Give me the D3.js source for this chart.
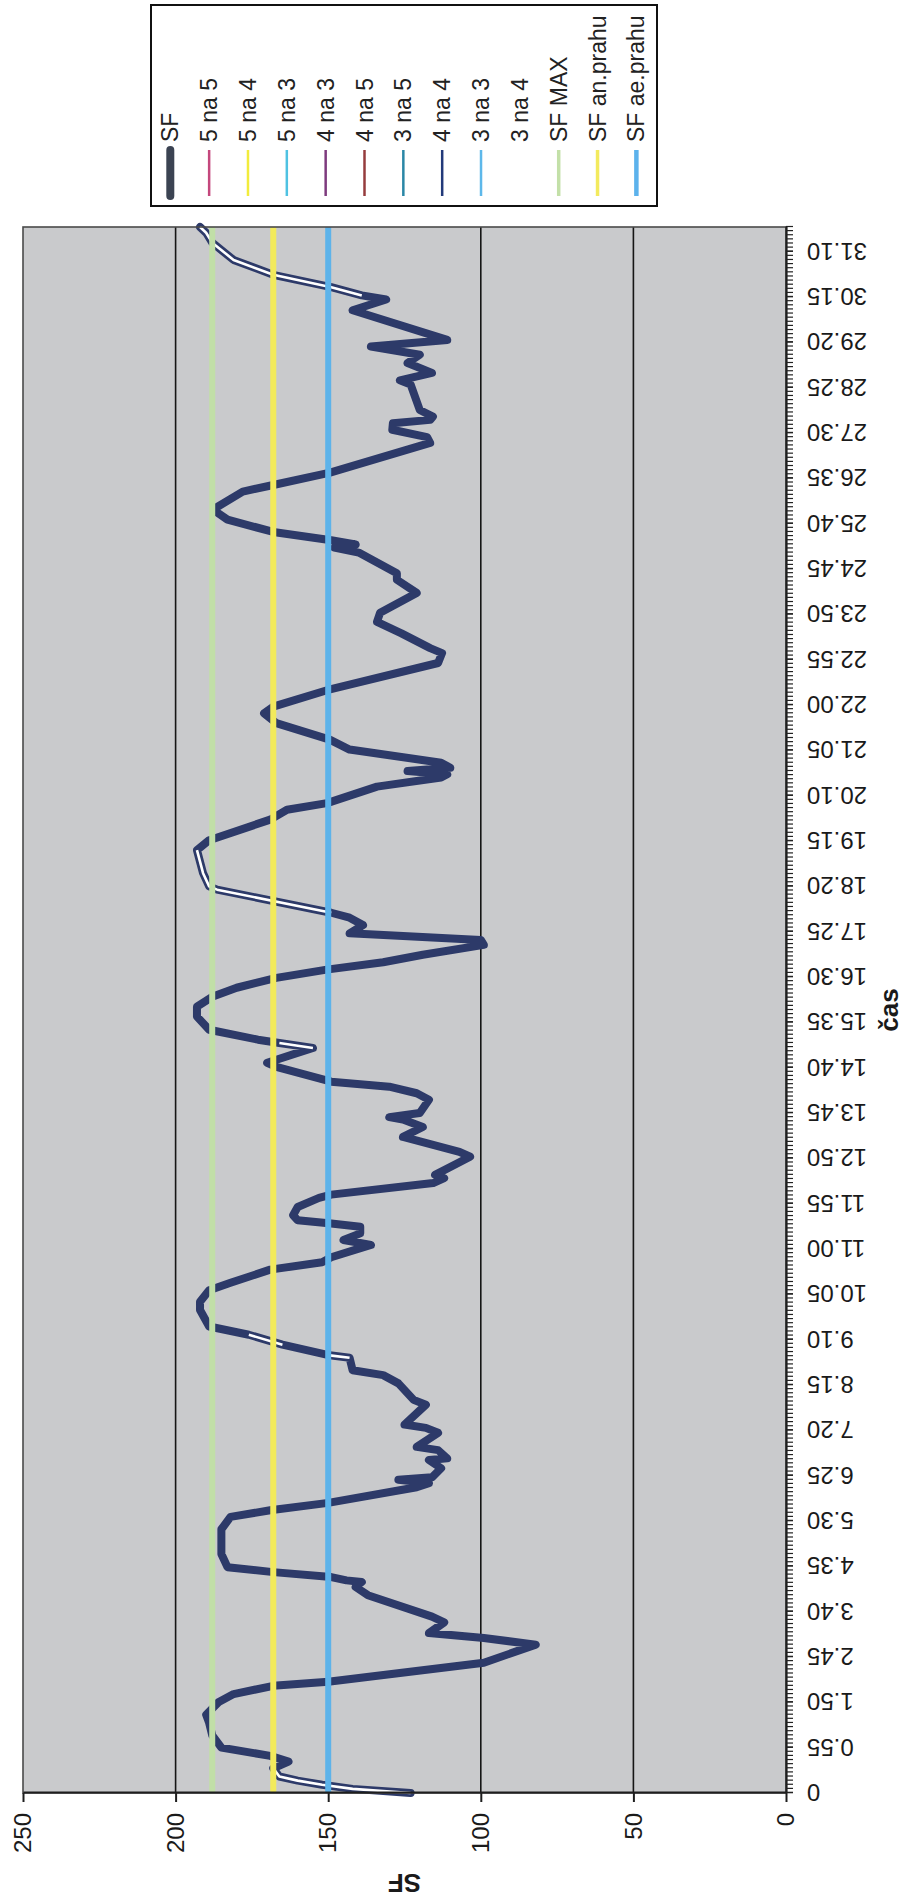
<!DOCTYPE html>
<html>
<head>
<meta charset="utf-8">
<script src="https://cdn.jsdelivr.net/npm/d3@7"></script>
<style>
  html, body { margin: 0; padding: 0; background: #ffffff; }
  svg { display: block; }
  text { font-family: "Liberation Sans", Arial, sans-serif; }
</style>
</head>
<body>
<svg id="graf" width="905" height="1903"></svg>
<script>
// Popisky časové osy (h.mm), jeden popisek na každých 11 intervalů po 5 minutách
const casLabels = ["0","0.55","1.50","2.45","3.40","4.35","5.30","6.25","7.20","8.15",
  "9.10","10.05","11.00","11.55","12.50","13.45","14.40","15.35","16.30","17.25",
  "18.20","19.15","20.10","21.05","22.00","22.55","23.50","24.45","25.40","26.35",
  "27.30","28.25","29.20","30.15","31.10"];

// Hodnoty osy SF
const sfTicks = [0, 50, 100, 150, 200, 250];

// Průběh SF: čas v minutách od začátku a hodnota SF
const sfCas = [0,5,10,15,20,30,38,45,55,70,85,95,110,120,130,135,158,180,188,194,
  207,214,240,250,256,258,262,268,274,290,320,335,343,352,371,376,380,383,394,404,
  406,416,420,437,443,447,471,477,497,507,513,528,531,544,556,566,586,596,610,619,
  635,644,650,665,671,679,687,691,695,701,711,722,726,740,746,750,772,778,796,808,
  817,820,825,841,849,857,863,881,886,904,910,914,926,942,954,966,977,989,999,1008,
  1017,1029,1035,1043,1053,1062,1068,1096,1100,1116,1144,1156,1181,1193,1201,1221,1232,1236,1240,1244,
  1250,1266,1278,1298,1310,1318,1338,1371,1383,1389,1407,1421,1432,1456,1472,1480,1505,1511,1515,1520,
  1530,1545,1554,1560,1579,1587,1602,1638,1645,1654,1662,1666,1670,1678,1709,1714,1723,1735,1745,1755,
  1763,1799,1812,1817,1827,1842,1860,1881,1893,1900];
const sfHodnota = [123,142,152,160,166,168,163,169,185,188,189,190,186,181,168,150,99,82,99,117,
  112,116,137,141,139,144,149,168,183,185,185,182,169,150,121,117,127,116,113,117,
  111,114,121,114,118,125,118,122,127,132,142,143,149.5,165,176,189,192,192,189,182,
  169,152,149,136,145,139.5,139.5,149,160,161.5,160,153,149,115.6,112,115,103.5,107,125.5,119,
  125.5,130,120,117,121,130,149,167,170,155,166,173,189,193,193,188,180,167,150.5,132,
  119,99,100,143,138.6,143,149,186.4,189,191,193,189,169,163.5,150.4,134,113,111,124,110,
  113,143,149.5,167,171,168,150.4,114,112.7,116.6,126,134,133,121,127.5,127.5,140,148,141,149,
  168,183,186.5,186.5,178,168,149.4,116.6,117.6,129,128.8,116.6,115.7,120,123,126.5,116,124,120,136,
  111,142,131,139,149,168,181,188,190,192];

// Úseky (minuty), kdy je aktivní řada "3 na 4"
const usek3na4 = [[0, 30], [528, 531], [544, 556], [904, 910], [1068, 1144], [1817, 1900]];

// Prahové řady
const prahNazvy = ["SF MAX", "SF an.prahu", "SF ae.prahu"];
const prahHodnoty = [188, 168, 150];

// Řady v legendě
const legendaNazvy = ["SF","5 na 5","5 na 4","5 na 3","4 na 3","4 na 5","3 na 5",
  "4 na 4","3 na 3","3 na 4","SF MAX","SF an.prahu","SF ae.prahu"];

// Vzhled řad
const styl = {
  "SF":          { barva: "#3b4352", sirka: 8 },
  "5 na 5":      { barva: "#c4477c", sirka: 2.5 },
  "5 na 4":      { barva: "#f2ec3c", sirka: 2.5 },
  "5 na 3":      { barva: "#4fc2e2", sirka: 2.5 },
  "4 na 3":      { barva: "#7e3b7e", sirka: 2.5 },
  "4 na 5":      { barva: "#963c3e", sirka: 2.5 },
  "3 na 5":      { barva: "#2a87a6", sirka: 2.5 },
  "4 na 4":      { barva: "#223a7a", sirka: 2.5 },
  "3 na 3":      { barva: "#5db8ea", sirka: 2.5 },
  "3 na 4":      { barva: "#ffffff", sirka: 2.5 },
  "SF MAX":      { barva: "#c3e0a8", sirka: 3.5 },
  "SF an.prahu": { barva: "#f3ea5e", sirka: 3.5 },
  "SF ae.prahu": { barva: "#5cb2ec", sirka: 4.5 }
};
const barvaKrivky = "#2d3a69";
const barvyPrahu = ["#c1dfa7", "#f2ea5c", "#5db3ea"];

const W = 1903, H = 905;              // graf je kreslen na šířku a otočen o 90°
const svg = d3.select("#graf");
const g = svg.append("g").attr("transform", `translate(0,${W}) rotate(-90)`);

const plot = { x0: 110, x1: 1676, y0: 23, y1: 786 };
const x = d3.scaleLinear().domain([0, 1900]).range([plot.x0, plot.x1]);
const y = d3.scaleLinear().domain([0, 250]).range([plot.y1, plot.y0]);

// minuty z popisku "h.mm"
const naMinuty = s => {
  const [h, m] = s.split(".");
  return (+h) * 60 + (m ? +m : 0);
};

// plocha grafu
g.append("rect")
  .attr("x", plot.x0).attr("y", plot.y0)
  .attr("width", plot.x1 - plot.x0).attr("height", plot.y1 - plot.y0)
  .attr("fill", "#c9cacc");

// vodorovná mřížka
g.append("g").selectAll("line")
  .data(sfTicks.filter(v => v > 0 && v < 250))
  .join("line")
  .attr("x1", plot.x0).attr("x2", plot.x1)
  .attr("y1", d => y(d)).attr("y2", d => y(d))
  .attr("stroke", "#151515").attr("stroke-width", 1.6);

// křivka SF
const body = sfCas.map((t, i) => ({ t, v: sfHodnota[i] }));
const linka = d3.line().x(d => x(d.t)).y(d => y(d.v));

g.append("path")
  .datum(body)
  .attr("d", linka)
  .attr("fill", "none")
  .attr("stroke", barvaKrivky)
  .attr("stroke-width", 8)
  .attr("stroke-linejoin", "round")
  .attr("stroke-linecap", "round");

// řada "3 na 4" přes křivku SF
g.append("g").selectAll("path")
  .data(usek3na4.map(([a, b]) => body.filter(d => d.t >= a && d.t <= b)))
  .join("path")
  .attr("d", linka)
  .attr("fill", "none")
  .attr("stroke", styl["3 na 4"].barva)
  .attr("stroke-width", 2.6)
  .attr("stroke-linejoin", "round");

// prahové čáry
g.append("g").selectAll("line")
  .data(prahHodnoty)
  .join("line")
  .attr("x1", x(0)).attr("x2", x(1900))
  .attr("y1", d => y(d)).attr("y2", d => y(d))
  .attr("stroke", (d, i) => barvyPrahu[i])
  .attr("stroke-width", 6);

// rámeček plochy
g.append("rect")
  .attr("x", plot.x0).attr("y", plot.y0)
  .attr("width", plot.x1 - plot.x0).attr("height", plot.y1 - plot.y0)
  .attr("fill", "none").attr("stroke", "#4a4a4a").attr("stroke-width", 1.6);

// osa SF
const osaY = g.append("g")
  .attr("transform", `translate(${plot.x0},0)`)
  .call(d3.axisLeft(y).tickValues(sfTicks).tickSize(9).tickPadding(11).tickSizeOuter(0));
osaY.select(".domain").attr("stroke", "#1e1e1e").attr("stroke-width", 2.2);
osaY.selectAll(".tick line").attr("stroke", "#1e1e1e").attr("stroke-width", 2);
osaY.selectAll("text").attr("font-size", 24).attr("fill", "#1a1a1a")
  .attr("font-family", "'Liberation Sans', Arial, sans-serif");

// časová osa: drobné značky po 5 minutách
const osaXmale = g.append("g")
  .attr("transform", `translate(0,${plot.y1})`)
  .call(d3.axisBottom(x).tickValues(d3.range(0, 1901, 5)).tickSize(7).tickFormat("").tickSizeOuter(0));
osaXmale.select(".domain").attr("stroke", "#1e1e1e").attr("stroke-width", 2.2);
osaXmale.selectAll(".tick line").attr("stroke", "#222").attr("stroke-width", 1.2);

// časová osa: popisky
const osaX = g.append("g")
  .attr("transform", `translate(0,${plot.y1})`)
  .call(d3.axisBottom(x)
    .tickValues(casLabels.map(naMinuty))
    .tickFormat((d, i) => casLabels[i])
    .tickSize(7).tickSizeOuter(0));
osaX.select(".domain").remove();
osaX.selectAll(".tick line").attr("stroke", "#222").attr("stroke-width", 1.4);
osaX.selectAll("text")
  .attr("transform", "rotate(-90)")
  .attr("x", -21).attr("y", 0).attr("dy", "0.35em")
  .attr("text-anchor", "end")
  .attr("font-size", 24).attr("fill", "#1a1a1a")
  .attr("font-family", "'Liberation Sans', Arial, sans-serif");

// názvy os
g.append("text")
  .attr("transform", `translate(20,${(plot.y0 + plot.y1) / 2}) rotate(-90)`)
  .attr("text-anchor", "middle").attr("dy", "0.35em")
  .attr("font-size", 26).attr("font-weight", "bold").attr("fill", "#1a1a1a")
  .text("SF");

g.append("text")
  .attr("x", (plot.x0 + plot.x1) / 2).attr("y", 889)
  .attr("text-anchor", "middle").attr("dy", "0.35em")
  .attr("font-size", 26).attr("font-weight", "bold").attr("fill", "#1a1a1a")
  .text("čas");

// legenda
const leg = g.append("g");
leg.append("rect")
  .attr("x", 1697).attr("y", 151).attr("width", 201).attr("height", 506)
  .attr("fill", "#ffffff").attr("stroke", "#111").attr("stroke-width", 2);

const polozka = leg.selectAll("g.polozka")
  .data(legendaNazvy)
  .join("g")
  .attr("class", "polozka")
  .attr("transform", (d, i) => `translate(0,${170.3 + i * 38.84})`);

polozka.append("line")
  .attr("x1", 1707).attr("x2", 1753)
  .attr("stroke", d => styl[d].barva)
  .attr("stroke-width", d => styl[d].sirka)
  .attr("stroke-linecap", d => d === "SF" ? "round" : "butt");

polozka.append("text")
  .attr("x", 1761).attr("dy", "0.35em")
  .attr("font-size", 23).attr("fill", "#222")
  .text(d => d);
</script>
</body>
</html>
